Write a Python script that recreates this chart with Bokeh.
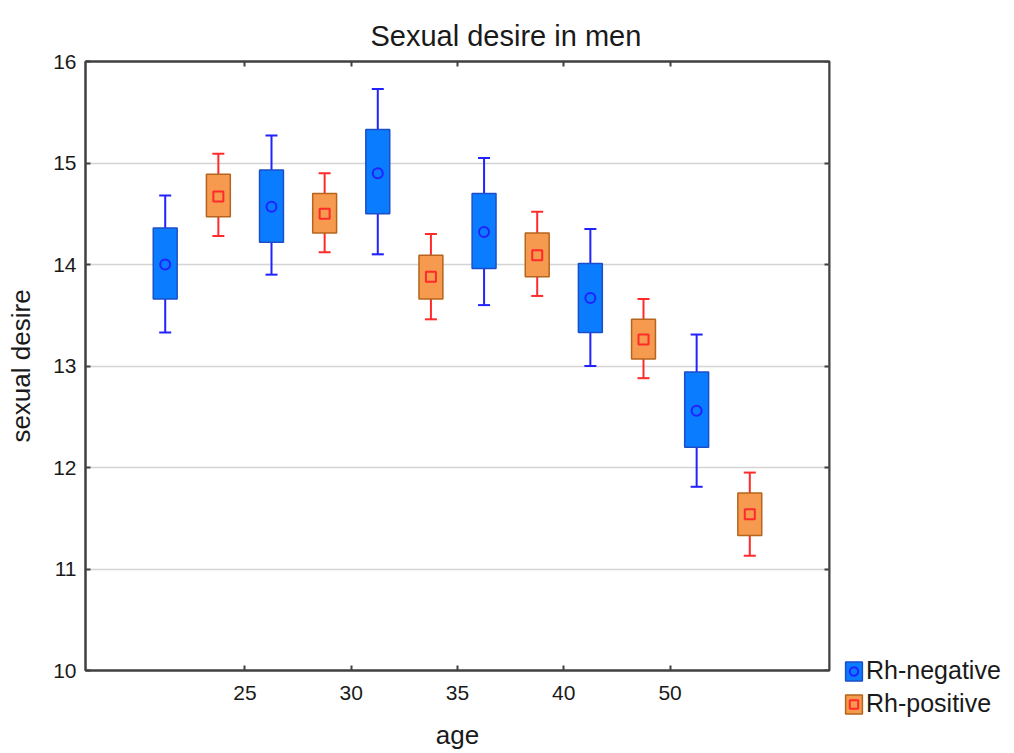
from bokeh.plotting import figure
from bokeh.models import (ColumnDataSource, FixedTicker, LinearAxis, Legend, LegendItem, Range1d,
                          Title, CustomJSTickFormatter)
from bokeh.transform import dodge
from bokeh.embed import file_html
from bokeh.resources import INLINE

# ---------------- data ----------------
groups = [1, 2, 3, 4, 5, 6]
tick_positions = [1.5, 2.5, 3.5, 4.5, 5.5]
tick_labels = ["25", "30", "35", "40", "50"]

neg_mean = [14.00, 14.57, 14.90, 14.32, 13.67, 12.56]
neg_box_lo = [13.66, 14.22, 14.50, 13.96, 13.33, 12.20]
neg_box_hi = [14.36, 14.93, 15.33, 14.70, 14.01, 12.94]
neg_wh_lo = [13.33, 13.90, 14.10, 13.60, 13.00, 11.81]
neg_wh_hi = [14.68, 15.27, 15.73, 15.05, 14.35, 13.31]

pos_mean = [14.67, 14.50, 13.88, 14.09, 13.26, 11.54]
pos_box_lo = [14.47, 14.31, 13.66, 13.88, 13.07, 11.33]
pos_box_hi = [14.89, 14.70, 14.09, 14.31, 13.46, 11.75]
pos_wh_lo = [14.28, 14.12, 13.46, 13.69, 12.88, 11.13]
pos_wh_hi = [15.09, 14.90, 14.30, 14.52, 13.66, 11.95]

FONT = "Liberation Sans"
AXC = "#404040"
TXT = "#1a1a1a"

X0, X1 = 0, 7
p = figure(frame_width=744, frame_height=609, output_backend="svg", toolbar_location=None,
           x_range=Range1d(X0, X1), y_range=Range1d(10, 16),
           min_border_left=85, min_border_right=0, min_border_top=61, min_border_bottom=80)

p.title = Title(text="Sexual desire in men", align="left", offset=285, vertical_align="top",
                text_font=FONT, text_font_size="29px", text_font_style="normal",
                text_color=TXT, standoff=16)

p.xgrid.visible = False
p.ygrid.grid_line_color = "#d4d4d4"
p.ygrid.grid_line_width = 1.5
p.ygrid.ticker = FixedTicker(ticks=[10, 11, 12, 13, 14, 15, 16])
p.outline_line_color = AXC
p.outline_line_width = 2

xt = FixedTicker(ticks=tick_positions)
yt = FixedTicker(ticks=[10, 11, 12, 13, 14, 15, 16])

for ax in p.xaxis:
    ax.ticker = xt
    ax.major_label_overrides = {t: l for t, l in zip(tick_positions, tick_labels)}
    ax.axis_label = "age"
for ax in p.yaxis:
    ax.ticker = yt
    ax.axis_label = "sexual desire"

for ax in list(p.xaxis) + list(p.yaxis):
    ax.axis_line_color = AXC
    ax.axis_line_width = 2
    ax.major_tick_in = 5
    ax.major_tick_out = 0
    ax.major_tick_line_color = AXC
    ax.major_tick_line_width = 2
    ax.minor_tick_line_color = None
    ax.major_label_text_font = FONT
    ax.major_label_text_font_size = "21px"
    ax.major_label_text_color = TXT
    ax.axis_label_text_font = FONT
    ax.axis_label_text_font_size = "26px"
    ax.axis_label_text_font_style = "normal"
    ax.axis_label_text_color = TXT
p.xaxis.major_label_standoff = 15
p.xaxis.axis_label_standoff = 17
p.yaxis.major_label_standoff = 9
p.yaxis.axis_label_standoff = 14

blank = CustomJSTickFormatter(code="return ''")
top = LinearAxis(ticker=xt, formatter=blank, axis_line_color=AXC,
                 axis_line_width=2, major_tick_in=5, major_tick_out=0,
                 major_tick_line_color=AXC, major_tick_line_width=2,
                 minor_tick_line_color=None, major_label_standoff=0)
p.add_layout(top, "above")
# right-hand ticks: an axis pinned to the right edge of the data range
right = LinearAxis(ticker=yt, formatter=blank, fixed_location=X1, axis_line_color=AXC,
                   axis_line_width=2, major_tick_in=0, major_tick_out=5,
                   major_tick_line_color=AXC, major_tick_line_width=2,
                   minor_tick_line_color=None, major_label_standoff=0)
p.add_layout(right, "left")

neg = ColumnDataSource(dict(x=groups, mean=neg_mean, blo=neg_box_lo, bhi=neg_box_hi,
                            wlo=neg_wh_lo, whi=neg_wh_hi))
pos = ColumnDataSource(dict(x=groups, mean=pos_mean, blo=pos_box_lo, bhi=pos_box_hi,
                            wlo=pos_wh_lo, whi=pos_wh_hi))

items = []
for src, off, fill, edge, wcol, marker, label in [
        (neg, -0.25, "#0a7cff", "#1c4fc7", "#2222ff", "circle", "Rh-negative"),
        (pos, 0.25, "#f59a4f", "#b5651d", "#ff2a2a", "square", "Rh-positive")]:
    xd = dodge("x", off, range=p.x_range)
    p.segment(x0=xd, x1=xd, y0="wlo", y1="whi", source=src, line_color=wcol, line_width=2)
    p.scatter(x=xd, y="wlo", source=src, marker="dash", size=12, line_color=wcol, line_width=2)
    p.scatter(x=xd, y="whi", source=src, marker="dash", size=12, line_color=wcol, line_width=2)
    b = p.vbar(x=xd, bottom="blo", top="bhi", width=0.225, source=src,
               fill_color=fill, line_color=edge, line_width=1.5)
    m = p.scatter(x=xd, y="mean", source=src, marker=marker, size=10,
                  fill_color=None, line_color=wcol, line_width=2)
    items.append(LegendItem(label=label, renderers=[b, m]))

legend = Legend(items=items, location=(14, -48), glyph_width=21, glyph_height=24,
                spacing=4, padding=0, margin=0, label_standoff=2,
                label_text_font=FONT, label_text_font_size="25px", label_text_color=TXT,
                border_line_color=None, background_fill_alpha=0)
p.add_layout(legend, "right")

open("out.html", "w").write(file_html(p, INLINE))
